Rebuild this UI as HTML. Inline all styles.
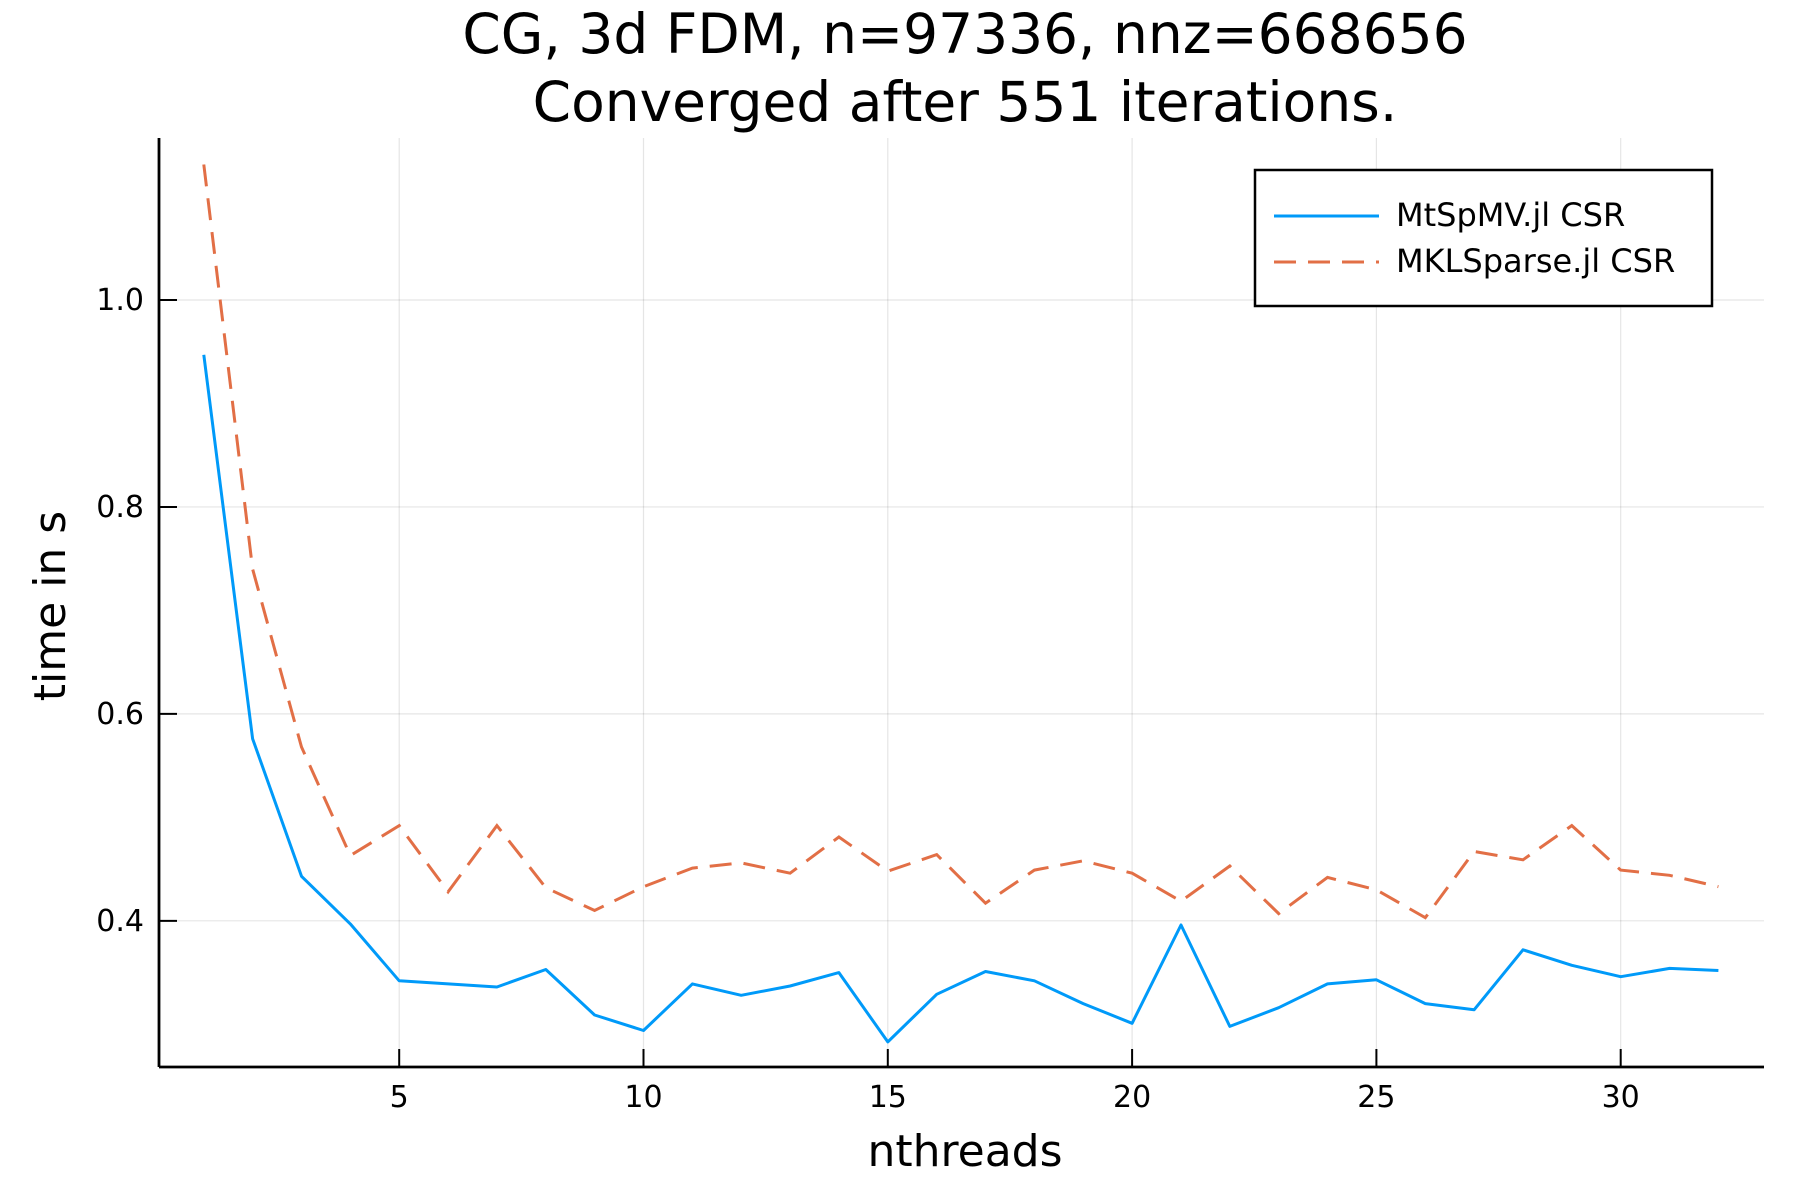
<!DOCTYPE html>
<html><head><meta charset="utf-8"><style>
html,body{margin:0;padding:0;background:#fff;}
svg{display:block;font-family:"DejaVu Sans","Liberation Sans",sans-serif;}
</style></head><body>
<svg id="chart" width="1800" height="1200" viewBox="0 0 1800 1200" xmlns="http://www.w3.org/2000/svg">
<rect width="1800" height="1200" fill="#fff"/>
<g id="grid"></g>
<g id="series"></g>
<g id="axes"></g>
<text x="965" y="53" font-size="55" text-anchor="middle">CG, 3d FDM, n=97336, nnz=668656</text>
<text x="965" y="121" font-size="55" text-anchor="middle">Converged after 551 iterations.</text>
<text x="965" y="1166" font-size="44" text-anchor="middle">nthreads</text>
<text x="0" y="0" font-size="44" text-anchor="middle" transform="translate(65,606) rotate(-90)">time in s</text>
<g>
<rect x="1255" y="170" width="457" height="136" fill="#fff" stroke="#000" stroke-width="2.5"/>
<line x1="1274" y1="216" x2="1379" y2="216" stroke="#009af9" stroke-width="3"/>
<text x="1396" y="226" font-size="32">MtSpMV.jl CSR</text>
<line x1="1274" y1="262" x2="1379" y2="262" stroke="#e26f46" stroke-width="3" stroke-dasharray="22,12"/>
<text x="1396" y="272" font-size="32">MKLSparse.jl CSR</text>
</g>
</svg>
<script>
const threads = [1,2,3,4,5,6,7,8,9,10,11,12,13,14,15,16,17,18,19,20,21,22,23,24,25,26,27,28,29,30,31,32];
const mtspmv = [0.947,0.576,0.443,0.397,0.342,0.339,0.336,0.353,0.309,0.294,0.339,0.328,0.337,0.350,0.283,0.329,0.351,0.342,0.320,0.301,0.396,0.298,0.316,0.339,0.343,0.320,0.314,0.372,0.357,0.346,0.354,0.352];
const mklsparse = [1.131,0.740,0.568,0.463,0.492,0.428,0.492,0.432,0.410,0.433,0.451,0.456,0.446,0.481,0.448,0.464,0.417,0.449,0.458,0.446,0.419,0.453,0.407,0.442,0.430,0.403,0.467,0.459,0.492,0.449,0.444,0.433];
const xTicks = [5,10,15,20,25,30];
const yTicks = [0.4,0.6,0.8,1.0];
const yTickLabels = ["0.4","0.6","0.8","1.0"];

const L=159,R=1764,T=138,B=1067;
function sx(v){return 399.2+(v-5)*48.86;}
function sy(v){return 300+(1.0-v)*1034.7;}
const NS="http://www.w3.org/2000/svg";
function mk(tag,attrs,parent){const e=document.createElementNS(NS,tag);for(const k in attrs)e.setAttribute(k,attrs[k]);parent.appendChild(e);return e;}
const grid=document.getElementById('grid'),axes=document.getElementById('axes'),series=document.getElementById('series');
xTicks.forEach(t=>{
  const g=mk('line',{x1:sx(t),x2:sx(t),y1:T,y2:B,stroke:'#000','stroke-opacity':0.1,'stroke-width':1.2},grid);
  
  
  const tk=mk('line',{x1:sx(t),x2:sx(t),y1:B,y2:B-18,stroke:'#000','stroke-width':2},axes);
  
  
  const tx=mk('text',{x:sx(t),y:1107,'font-size':30,'text-anchor':'middle'},axes);
  tx.textContent=t;
  
  
});
yTicks.forEach((t,i)=>{
  const g=mk('line',{x1:L,x2:R,y1:sy(t),y2:sy(t),stroke:'#000','stroke-opacity':0.1,'stroke-width':1.2},grid);
  
  
  const tk=mk('line',{x1:L,x2:L+18,y1:sy(t),y2:sy(t),stroke:'#000','stroke-width':2},axes);
  
  
  const tx=mk('text',{x:144,y:sy(t)+10,'font-size':30,'text-anchor':'end'},axes);
  tx.textContent=yTickLabels[i];
  
  
});
const ax=mk('line',{x1:L,x2:R,y1:B,y2:B,stroke:'#000','stroke-width':2.8},axes);


const ay=mk('line',{x1:L,x2:L,y1:T,y2:B,stroke:'#000','stroke-width':2.8},axes);


function pts(arr){return arr.map((v,i)=>sx(threads[i]).toFixed(1)+','+sy(v).toFixed(1)).join(' ');}
const p1=mk('polyline',{points:pts(mtspmv),fill:'none',stroke:'#009af9','stroke-width':3,'stroke-linejoin':'round'},series);


const p2=mk('polyline',{points:pts(mklsparse),fill:'none',stroke:'#e26f46','stroke-width':3,'stroke-dasharray':'22,12'},series);


</script>
</body></html>
